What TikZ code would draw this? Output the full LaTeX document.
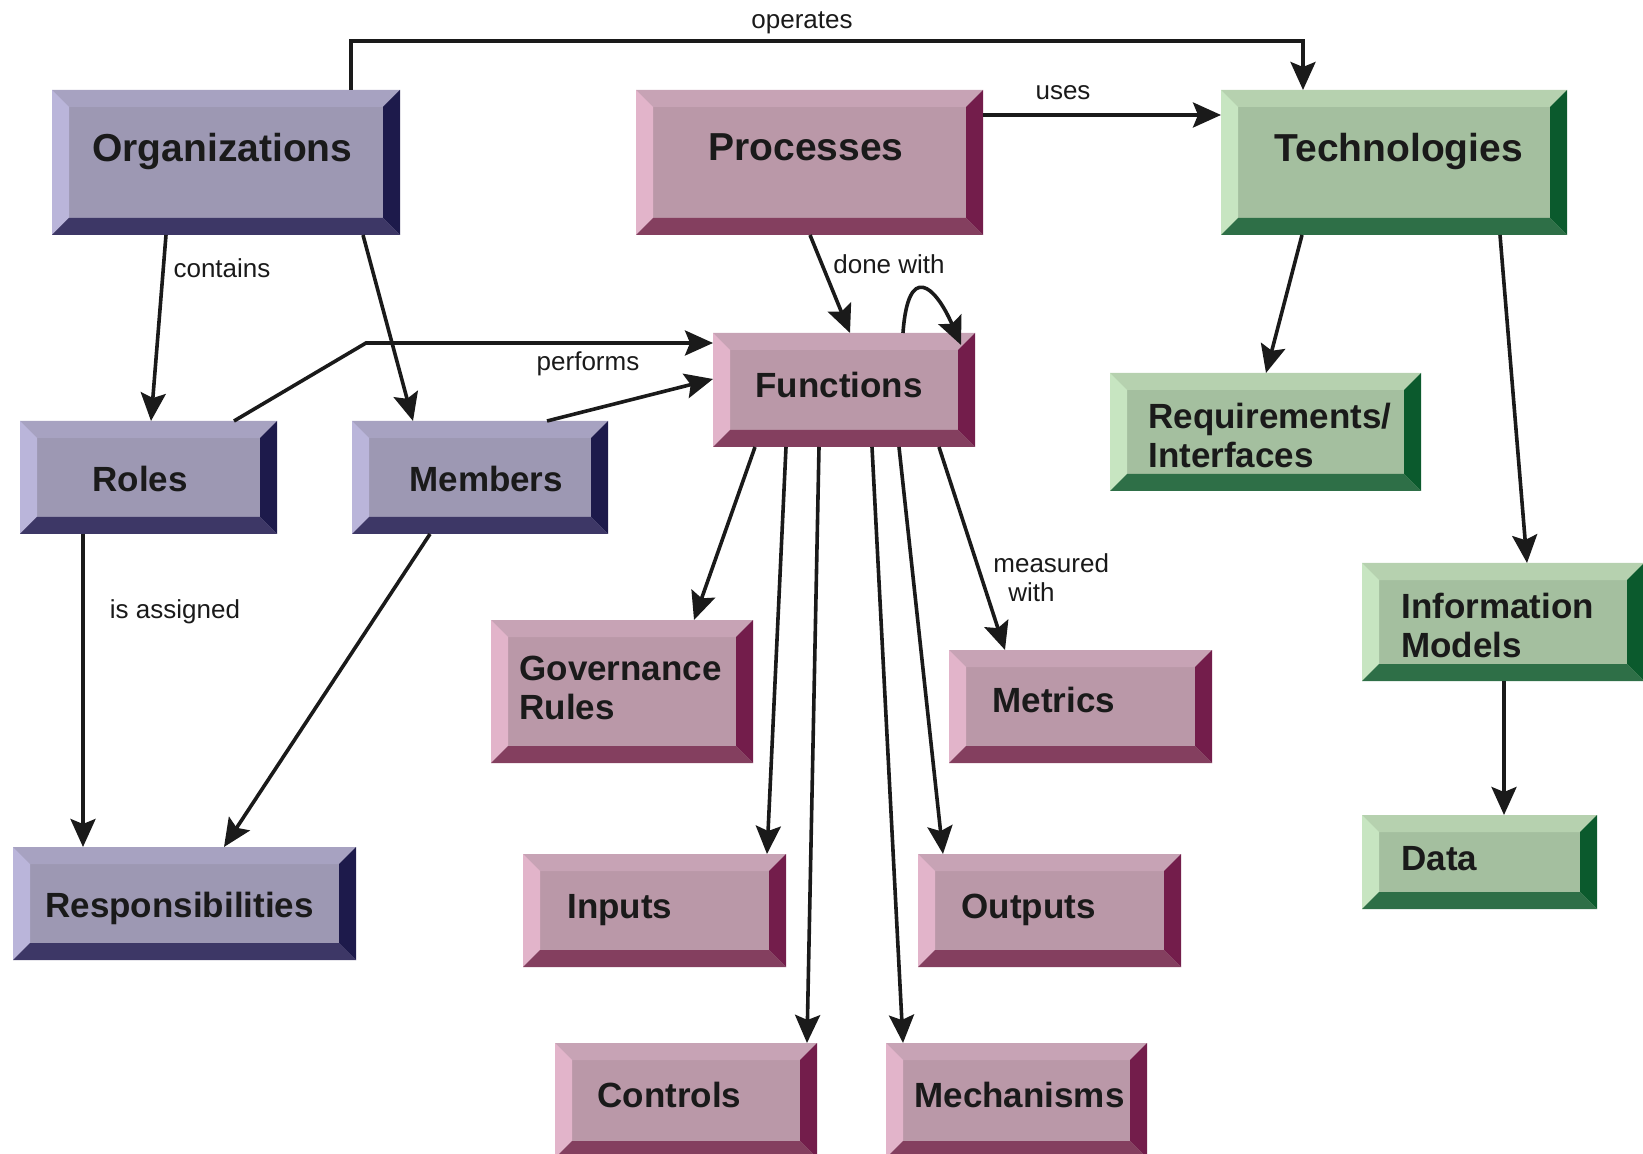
\documentclass[tikz,border=0pt]{standalone}
\usepackage{fontspec}
\setmainfont{Liberation Sans}
\usetikzlibrary{arrows.meta,calc}

% palettes: face, top band, left band, right band, bottom band
\definecolor{puF}{HTML}{9D98B3}
\definecolor{puT}{HTML}{A7A2C1}
\definecolor{puL}{HTML}{BAB5DA}
\definecolor{puR}{HTML}{1D1A4B}
\definecolor{puB}{HTML}{3D3766}
\definecolor{piF}{HTML}{BA98A8}
\definecolor{piT}{HTML}{C7A3B5}
\definecolor{piL}{HTML}{E2B4CA}
\definecolor{piR}{HTML}{731D4B}
\definecolor{piB}{HTML}{843F5F}
\definecolor{grF}{HTML}{A4BF9F}
\definecolor{grT}{HTML}{B6D1AF}
\definecolor{grL}{HTML}{C7E5C1}
\definecolor{grR}{HTML}{0B5A2D}
\definecolor{grB}{HTML}{2E6F47}
\definecolor{ink}{HTML}{1A1A1A}

\newlength\bw
\setlength\bw{8.5pt}

\tikzset{
  bevel/.style n args={5}{rectangle, inner sep=0pt, outer sep=0pt, fill=#1,
    path picture={
      \fill[#2] (path picture bounding box.north west) -- (path picture bounding box.north east)
        -- ([shift={(-\bw,-\bw)}]path picture bounding box.north east)
        -- ([shift={(\bw,-\bw)}]path picture bounding box.north west) -- cycle;
      \fill[#3] (path picture bounding box.north west) -- ([shift={(\bw,-\bw)}]path picture bounding box.north west)
        -- ([shift={(\bw,\bw)}]path picture bounding box.south west) -- (path picture bounding box.south west) -- cycle;
      \fill[#4] (path picture bounding box.north east) -- (path picture bounding box.south east)
        -- ([shift={(-\bw,\bw)}]path picture bounding box.south east)
        -- ([shift={(-\bw,-\bw)}]path picture bounding box.north east) -- cycle;
      \fill[#5] (path picture bounding box.south west) -- (path picture bounding box.south east)
        -- ([shift={(-\bw,\bw)}]path picture bounding box.south east)
        -- ([shift={(\bw,\bw)}]path picture bounding box.south west) -- cycle;
    }},
  purplebox/.style={bevel={puF}{puT}{puL}{puR}{puB}},
  pinkbox/.style={bevel={piF}{piT}{piL}{piR}{piB}},
  greenbox/.style={bevel={grF}{grT}{grL}{grR}{grB}},
  boxtext/.style={anchor=west, inner sep=0pt, align=left, text=ink,
    font=\bfseries\fontsize{17.5}{19.5}\selectfont},
  bigtext/.style={boxtext, font=\bfseries\fontsize{19.5}{22}\selectfont},
  oneline/.style={text depth=0pt},
  lbl/.style={inner sep=0pt, text=ink, font=\fontsize{13}{14.5}\selectfont},
  arr/.style={draw=ink, line width=1.8pt,
    -{Stealth[length=14pt, width=12.5pt, inset=2.5pt]}},
}

% \bevbox{name}{style}{x1}{y1}{x2}{y2}
\newcommand\bevbox[6]{%
  \node[#2, minimum width={(#5-#3)*0.5pt}, minimum height={(#6-#4)*0.5pt}]
    (#1) at ({(#3+#5)/2},{(#4+#6)/2}) {};}

\begin{document}
\begin{tikzpicture}[x=0.5pt, y=-0.5pt]
\path[use as bounding box, clip] (0,0) rectangle (1643,1154);

% boxes
\bevbox{org}{purplebox}{52}{90}{400}{235}
\bevbox{proc}{pinkbox}{636}{90}{983}{235}
\bevbox{tech}{greenbox}{1221}{90}{1567}{235}
\bevbox{roles}{purplebox}{20}{421}{277}{534}
\bevbox{members}{purplebox}{352}{421}{608}{534}
\bevbox{func}{pinkbox}{713}{333}{975}{447}
\bevbox{req}{greenbox}{1110}{373}{1421}{491}
\bevbox{info}{greenbox}{1362}{563}{1644}{681}
\bevbox{data}{greenbox}{1362}{815}{1597}{909}
\bevbox{gov}{pinkbox}{491}{620}{753}{763}
\bevbox{metrics}{pinkbox}{949}{650}{1212}{763}
\bevbox{inputs}{pinkbox}{523}{854}{786}{967}
\bevbox{outputs}{pinkbox}{918}{854}{1181}{967}
\bevbox{resp}{purplebox}{13}{847}{356}{960}
\bevbox{controls}{pinkbox}{555}{1043}{817}{1158}
\bevbox{mech}{pinkbox}{886}{1043}{1147}{1158}

% box captions
\node[bigtext, oneline] (org-t) at (92,147) {Organizations};
\node[bigtext, oneline] (proc-t) at (708,147) {Processes};
\node[bigtext, oneline] (tech-t) at (1274,147) {Technologies};
\node[boxtext, oneline] (roles-t) at (92,479) {Roles};
\node[boxtext, oneline] (members-t) at (409,479) {Members};
\node[boxtext, oneline] (func-t) at (755,385) {Functions};
\node[boxtext] (req-t) at (1148,435) {Requirements/\\Interfaces};
\node[boxtext] (info-t) at (1401,625) {Information\\Models};
\node[boxtext, oneline] (data-t) at (1401,858) {Data};
\node[boxtext] (gov-t) at (519,688) {Governance\\Rules};
\node[boxtext, oneline] (metrics-t) at (992,700) {Metrics};
\node[boxtext, oneline] (inputs-t) at (567,906) {Inputs};
\node[boxtext, oneline] (outputs-t) at (961,906) {Outputs};
\node[boxtext, oneline] (resp-t) at (45,905) {Responsibilities};
\node[boxtext, oneline] (controls-t) at (597,1095) {Controls};
\node[boxtext, oneline] (mech-t) at (914,1095) {Mechanisms};

% connectors
\draw[arr] ($(org.north west)+(299,0)$) -- ++(0,-49) -| ($(tech.north west)+(82,0)$);
\draw[arr] ($(proc.north east)+(0,25)$) -- ($(tech.north west)+(0,25)$);
\draw[arr] ($(org.south west)+(114,0)$) -- ($(roles.north west)+(131,0)$);
\draw[arr] ($(org.south west)+(311,0)$) -- ($(members.north west)+(61,0)$);
\draw[arr] ($(roles.north west)+(214,0)$) -- ++(132,-78) -- ($(func.north west)+(0,10)$);
\draw[arr] ($(members.north west)+(195,0)$) -- ($(func.north west)+(0,46)$);
\draw[arr] ($(proc.south west)+(174,0)$) -- ($(func.north west)+(137,0)$);
\draw[arr] ($(func.north west)+(190,0)$) .. controls +(5,-71) and +(-26,-60) .. ($(func.north east)+(-14,12)$);
\draw[arr] ($(func.south west)+(42,0)$) -- ($(gov.north west)+(203,0)$);
\draw[arr] ($(func.south west)+(73,0)$) -- ($(inputs.north west)+(244,0)$);
\draw[arr] ($(func.south west)+(106,0)$) -- ($(controls.north west)+(252,0)$);
\draw[arr] ($(func.south west)+(159,0)$) -- ($(mech.north west)+(17,0)$);
\draw[arr] ($(func.south west)+(186,0)$) -- ($(outputs.north west)+(25,0)$);
\draw[arr] ($(func.south west)+(226,0)$) -- ($(metrics.north west)+(56,0)$);
\draw[arr] ($(tech.south west)+(81,0)$) -- ($(req.north west)+(156,0)$);
\draw[arr] ($(tech.south west)+(279,0)$) -- ($(info.north west)+(165,0)$);
\draw[arr] ($(info.south west)+(142,0)$) -- ($(data.north west)+(142,0)$);
\draw[arr] ($(roles.south west)+(63,0)$) -- ($(resp.north west)+(70,0)$);
\draw[arr] ($(members.south west)+(78,0)$) -- ($(resp.north west)+(211,0)$);

% connector labels
\node[lbl] (l-operates) at (802,23) {operates};
\node[lbl] (l-uses) at (1063,93) {uses};
\node[lbl] (l-contains) at (222,268) {contains};
\node[lbl] (l-performs) at (588,364) {performs};
\node[lbl] (l-done) at (889,264) {done with};
\node[lbl, anchor=west, align=left] (l-measured) at (993,578) {measured\\\hspace*{7.5pt}with};
\node[lbl] (l-assigned) at (175,612) {is assigned};
\end{tikzpicture}
\end{document}
